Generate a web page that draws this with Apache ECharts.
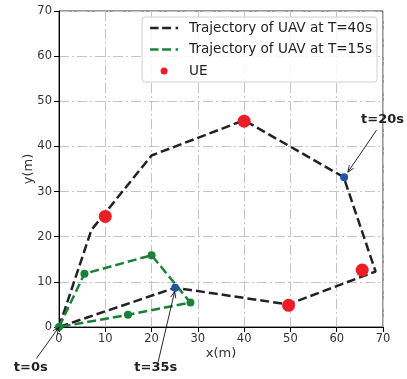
<!DOCTYPE html>
<html>
<head>
<meta charset="utf-8">
<script src="https://cdn.jsdelivr.net/npm/echarts@6/dist/echarts.min.js"></script>
<style>
  html, body { margin: 0; padding: 0; background: #fff; }
  #main { width: 407px; height: 379px; }
</style>
</head>
<body>
<div id="main"></div>
<script>
// UAV path, T = 40s
const path40 = [[0, 0], [7, 21.5], [20, 38], [40, 45.8], [61.5, 33.2], [68.4, 12.3], [49.5, 5.0], [25.1, 8.7], [0, 0]];
// UAV path, T = 15s
const path15 = [[0, 0], [5.5, 11.8], [20, 15.9], [28.4, 5.4], [14.9, 2.7], [0, 0]];
// user equipment
const uePoints = [[10, 24.5], [40, 45.6], [49.6, 4.8], [65.5, 12.6]];
// marked time instants on the long path
const timePoints = [[61.6, 33.2], [25.1, 8.7]];
// annotations: label, text anchor, arrow start, arrow tip
const notes = [
  { text: 't=0s', at: [-6.1, -8.9], from: [-4.9, -7.0], to: [0, 0] },
  { text: 't=35s', at: [20.9, -8.9], from: [21.4, -7.8], to: [25.0, 7.9] },
  { text: 't=20s', at: [69.9, 46.0], from: [68.6, 43.6], to: [62.4, 34.3] }
];
const axisMax = 70;
const tickStep = 10;

const FONT = 'DejaVu Sans';
const BLACK = '#222222';
const GREEN = '#1b8139';
const RED = '#ee1c25';
const BLUE = '#2155a8';

const chart = echarts.init(document.getElementById('main'), null, { renderer: 'canvas' });

function axis(name, gap, labelMargin) {
  return {
    type: 'value',
    min: 0,
    max: axisMax,
    interval: tickStep,
    name: name,
    nameLocation: 'middle',
    nameGap: gap,
    nameMoveOverlap: false,
    nameTextStyle: { fontFamily: FONT, fontSize: 13, color: '#333' },
    axisLine: { show: true, onZero: false, lineStyle: { color: '#000', width: 1 } },
    axisTick: { show: true, inside: false, length: 5, lineStyle: { color: '#000', width: 1 } },
    axisLabel: { fontFamily: FONT, fontSize: 11.5, color: '#333', margin: labelMargin },
    splitLine: { show: true, lineStyle: { color: '#c4c4c4', width: 1, type: [10, 3, 2, 3] } }
  };
}

// legend glyphs: dashed segment and a small dot
const dashIcon = 'path://M0,0 H8.5 V2.4 H0 Z M12,0 H21 V2.4 H12 Z M25.5,0 H28 V2.4 H25.5 Z';
const ueIcon = 'path://M0,0 L0.01,0 Z M20,20 L20.01,20 Z M10,5 A5,5 0 1,1 10,15 A5,5 0 1,1 10,5 Z';

const option = {
  animation: false,
  backgroundColor: '#fff',
  grid: {
    left: 59, right: 24, top: 11, bottom: 52,
    show: true, borderColor: '#333', borderWidth: 1, backgroundColor: 'transparent'
  },
  legend: {
    orient: 'vertical',
    right: 30,
    top: 17,
    itemWidth: 28,
    itemHeight: 14,
    itemGap: 7.5,
    padding: [4, 5, 4, 8],
    borderColor: '#d0d0d0',
    borderWidth: 1,
    borderRadius: 3,
    backgroundColor: 'rgba(255,255,255,0.85)',
    textStyle: { fontFamily: FONT, fontSize: 13.6, color: '#222', padding: [0, 0, 0, 6] },
    data: [
      { name: 'Trajectory of UAV at T=40s', icon: dashIcon },
      { name: 'Trajectory of UAV at T=15s', icon: dashIcon },
      { name: 'UE', icon: ueIcon }
    ]
  },
  xAxis: axis('x(m)', 20, 6),
  yAxis: axis('y(m)', 24, 7),
  series: [
    {
      name: 'Trajectory of UAV at T=40s',
      type: 'line',
      data: path40,
      symbol: 'none',
      color: BLACK,
      lineStyle: { color: BLACK, width: 2.5, type: [9, 4] },
      z: 2
    },
    {
      name: 'Trajectory of UAV at T=15s',
      type: 'line',
      data: path15,
      symbol: 'none',
      color: GREEN,
      lineStyle: { color: GREEN, width: 2.5, type: [9, 4] },
      z: 3
    },
    {
      name: 'T15 points',
      type: 'scatter',
      data: path15.slice(0, -1),
      symbolSize: 8,
      itemStyle: { color: GREEN, opacity: 1 },
      z: 4
    },
    {
      name: 'UE',
      type: 'scatter',
      data: uePoints,
      symbolSize: 13,
      itemStyle: { color: RED, opacity: 1 },
      z: 5
    },
    {
      name: 'time points',
      type: 'scatter',
      data: timePoints,
      symbolSize: 8,
      itemStyle: { color: BLUE, opacity: 1 },
      z: 6
    }
  ]
};

chart.setOption(option);

// arrows and labels placed through the chart's own coordinate conversion
function drawNotes() {
  const g = [];
  notes.forEach(n => {
    const p0 = chart.convertToPixel({ gridIndex: 0 }, n.from);
    const p1 = chart.convertToPixel({ gridIndex: 0 }, n.to);
    const pt = chart.convertToPixel({ gridIndex: 0 }, n.at);
    const ang = Math.atan2(p1[1] - p0[1], p1[0] - p0[0]);
    const head = 7, spread = 0.38;
    const a1 = [p1[0] - head * Math.cos(ang - spread), p1[1] - head * Math.sin(ang - spread)];
    const a2 = [p1[0] - head * Math.cos(ang + spread), p1[1] - head * Math.sin(ang + spread)];
    g.push({
      type: 'line', z: 100, silent: true,
      shape: { x1: p0[0], y1: p0[1], x2: p1[0], y2: p1[1] },
      style: { stroke: '#111', lineWidth: 0.9 }
    });
    g.push({
      type: 'polyline', z: 100, silent: true,
      shape: { points: [a1, p1, a2] },
      style: { stroke: '#111', lineWidth: 0.9, fill: null }
    });
    g.push({
      type: 'text', z: 100, silent: true,
      x: pt[0], y: pt[1],
      style: {
        text: n.text, fill: '#222', font: 'bold 13px "DejaVu Sans"',
        align: 'center', verticalAlign: 'middle'
      }
    });
  });
  chart.setOption({ graphic: g });
}
drawNotes();
</script>
</body>
</html>
